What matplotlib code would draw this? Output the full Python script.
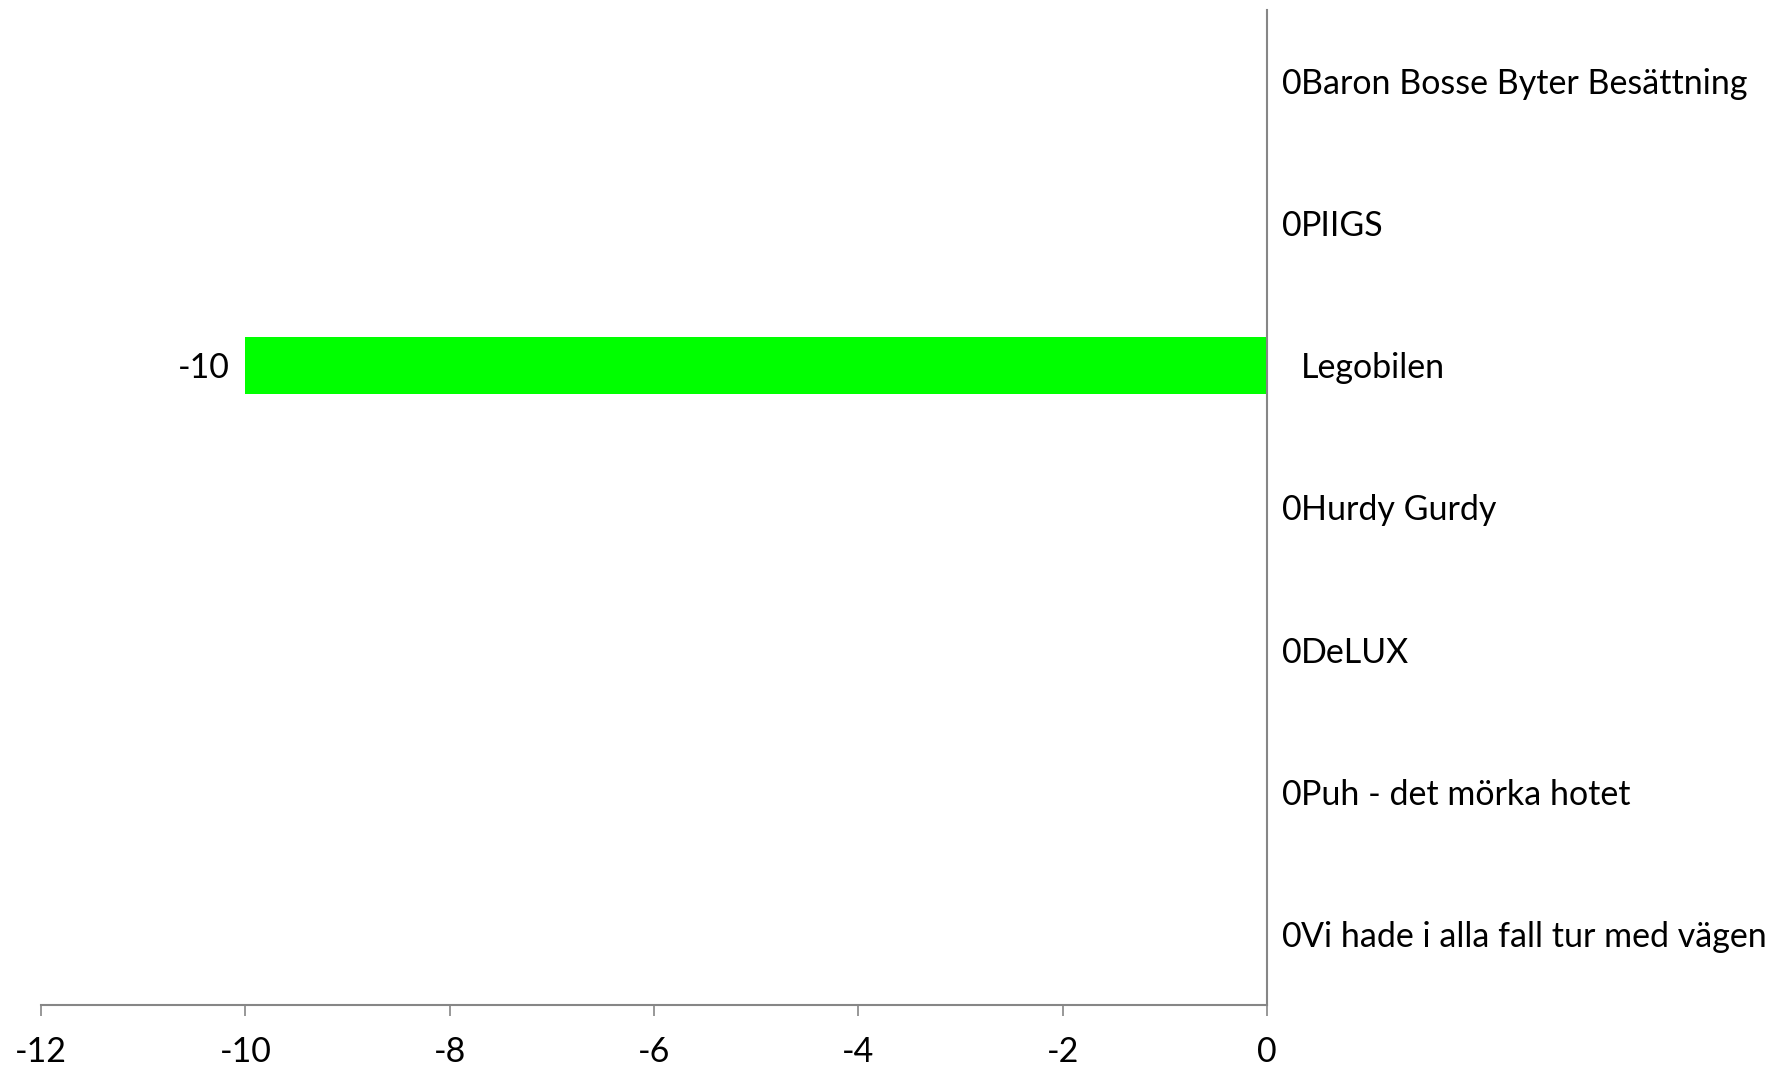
import matplotlib
matplotlib.use("Agg")
import matplotlib.pyplot as plt

titles = ["Vi hade i alla fall tur med vägen", "Puh - det mörka hotet", "DeLUX",
          "Hurdy Gurdy", "Legobilen", "PIIGS", "Baron Bosse Byter Besättning"]
scores = [0, 0, 0, 0, -10, 0, 0]
xticks = [-12, -10, -8, -6, -4, -2, 0]

plt.rcParams['font.family'] = ['Lato', 'DejaVu Sans']
fs = 24.5
grey = '#868686'

fig = plt.figure(figsize=(17.82, 10.71), dpi=100)
ax = fig.add_axes([0.023, 0.0616, 0.688, 0.9291])

ypos = list(range(len(titles)))
ax.barh(ypos, scores, height=0.4, color='#00ff00')

# data labels, outside end of each bar
for y, v in zip(ypos, scores):
    if v < 0:
        ax.annotate(str(v), xy=(v, y), xytext=(-11, 0), textcoords='offset points',
                    ha='right', va='center_baseline', fontsize=fs)
    else:
        ax.annotate(str(v), xy=(v, y), xytext=(11, 0), textcoords='offset points',
                    ha='left', va='center_baseline', fontsize=fs)

ax.set_xlim(-12, 0)
ax.set_ylim(-0.5, len(titles) - 0.5)
ax.set_xticks(xticks)
ax.set_xticklabels([str(t) for t in xticks], fontsize=fs)
ax.set_yticks(ypos)
ax.set_yticklabels(titles, fontsize=fs)
ax.yaxis.tick_right()
ax.tick_params(axis='y', length=0, pad=24.5)
ax.tick_params(axis='x', length=8, width=1.2, color=grey, pad=14)

for s in ['top', 'left']:
    ax.spines[s].set_visible(False)
for s in ['bottom', 'right']:
    ax.spines[s].set_color(grey)
    ax.spines[s].set_linewidth(1.5)

fig.savefig('out.png', dpi=100)
